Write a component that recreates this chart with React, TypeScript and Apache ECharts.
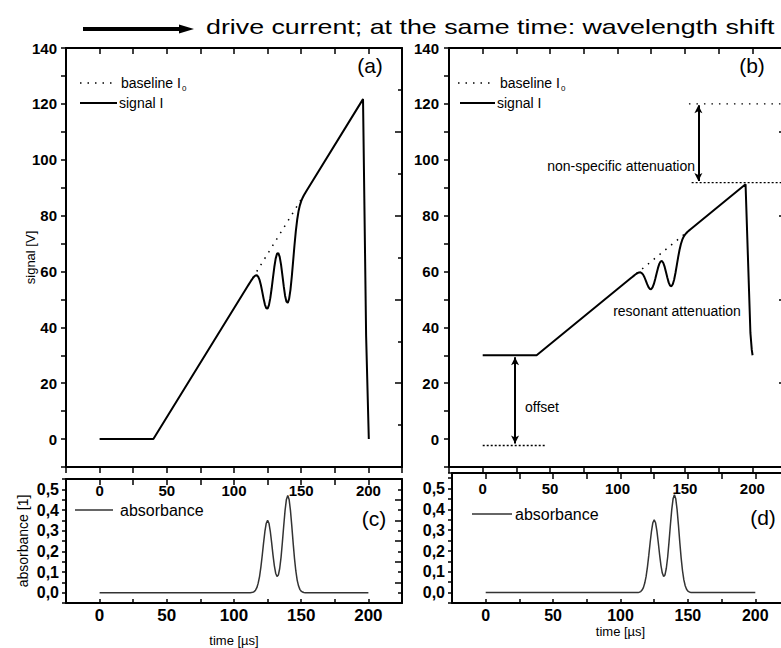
import React, { useEffect, useRef } from 'react';
import * as echarts from 'echarts';

// ---- data ----
const timeA = [0, 40, 110, 111, 112, 113, 114, 115, 116, 117, 118, 119, 120, 121, 122, 123, 124, 125, 126, 127, 128, 129, 130, 131, 132, 133, 134, 135, 136, 137, 138, 139, 140, 141, 142, 143, 144, 145, 146, 147, 148, 149, 150, 151, 152, 153, 154, 196, 198.3, 200.3];
const signalA = [0, 0, 54.6, 55.37, 56.14, 56.89, 57.59, 58.18, 58.57, 58.62, 58.13, 56.99, 55.15, 52.79, 50.28, 48.15, 46.83, 46.72, 47.95, 50.45, 53.9, 57.82, 61.59, 64.6, 66.36, 66.6, 65.22, 62.44, 58.69, 54.73, 51.33, 49.2, 48.75, 50.19, 53.44, 58.16, 63.73, 69.38, 74.45, 78.51, 81.53, 83.66, 85.17, 86.31, 87.26, 88.1, 88.92, 121.7, 37, 0];

const timeB = [0, 40, 110, 111, 112, 113, 114, 115, 116, 117, 118, 119, 120, 121, 122, 123, 124, 125, 126, 127, 128, 129, 130, 131, 132, 133, 134, 135, 136, 137, 138, 139, 140, 141, 142, 143, 144, 145, 146, 147, 148, 149, 150, 151, 152, 153, 154, 195, 198.6, 199.6, 200.2];
const signalB = [30, 30, 57.65, 58.04, 58.43, 58.81, 59.16, 59.47, 59.66, 59.69, 59.44, 58.86, 57.93, 56.73, 55.46, 54.38, 53.72, 53.66, 54.28, 55.55, 57.29, 59.28, 61.19, 62.71, 63.61, 63.73, 63.03, 61.62, 59.72, 57.72, 56.0, 54.91, 54.69, 55.42, 57.06, 59.45, 62.27, 65.13, 67.7, 69.76, 71.29, 72.37, 73.13, 73.71, 74.19, 74.62, 75.03, 91.2, 38, 32, 30];

const baselineTime = [114, 150];
const baselineA = [57.7, 85.8];
const baselineB = [59.2, 73.5];

const timeAbs = [0, 110, 111, 112, 113, 114, 115, 116, 117, 118, 119, 120, 121, 122, 123, 124, 125, 126, 127, 128, 129, 130, 131, 132, 133, 134, 135, 136, 137, 138, 139, 140, 141, 142, 143, 144, 145, 146, 147, 148, 149, 150, 151, 152, 153, 154, 200];
const absorbance = [0, 0, 0, 0, 0.001, 0.002, 0.005, 0.012, 0.024, 0.046, 0.078, 0.124, 0.18, 0.241, 0.296, 0.336, 0.35, 0.336, 0.297, 0.242, 0.183, 0.131, 0.094, 0.078, 0.085, 0.117, 0.171, 0.244, 0.324, 0.398, 0.451, 0.47, 0.451, 0.398, 0.323, 0.241, 0.166, 0.105, 0.061, 0.033, 0.016, 0.007, 0.003, 0.001, 0, 0, 0];

const nonSpecTopTime = [153, 226];
const nonSpecTop = [120, 120];
const nonSpecBottomTime = [155, 226];
const nonSpecBottom = [91.8, 91.8];
const offsetTime = [0, 46];
const offsetLevel = [-2.3, -2.3];
const offsetArrow = [29.3, -1.6]; // at t = 24
const nonSpecArrow = [119.5, 92.4]; // at t = 160

const timeTicks = [0, 50, 100, 150, 200];
const signalTicks = [0, 20, 40, 60, 80, 100, 120, 140];
const absTicks = [0, 0.1, 0.2, 0.3, 0.4, 0.5];

const FONT = '"Liberation Sans", Arial, Helvetica, sans-serif';

const zip = (xs: number[], ys: number[]) => xs.map((x, i) => [x, ys[i]]);

const timeFmt = (v: number) => (timeTicks.some((t) => Math.abs(t - v) < 1e-6) ? String(Math.round(v)) : '');
const signalFmt = (v: number) => (signalTicks.some((t) => Math.abs(t - v) < 1e-6) ? String(Math.round(v)) : '');
const absFmt = (v: number) => {
  const t = absTicks.find((a) => Math.abs(a - v) < 1e-6);
  return t === undefined ? '' : t.toFixed(1).replace('.', ',');
};

const axisLine = { show: true, onZero: false, lineStyle: { color: '#000', width: 2 } };
const tickStyle = { color: '#000', width: 1.5 };
const labelFont = (size: number) => ({ color: '#000', fontSize: size, fontWeight: 'bold' as const, fontFamily: FONT });

function xMain(gridIndex: number, margin: number, size: number, inside: boolean, name?: string, nameGap?: number, nameSize?: number) {
  return {
    type: 'value', gridIndex, min: -25, max: 225, interval: 25, position: 'bottom',
    axisLine, axisTick: { show: true, inside, length: inside ? 4 : 6, lineStyle: tickStyle },
    axisLabel: { formatter: timeFmt, margin, ...labelFont(size) },
    splitLine: { show: false },
    name, nameLocation: 'middle', nameGap, nameMoveOverlap: false,
    nameTextStyle: { color: '#000', fontSize: nameSize, fontFamily: FONT },
  };
}
function xTop(gridIndex: number) {
  return {
    type: 'value', gridIndex, min: -25, max: 225, interval: 25, position: 'top',
    axisLine, axisTick: { show: true, inside: true, length: 6, lineStyle: tickStyle },
    axisLabel: { show: false }, splitLine: { show: false },
  };
}
function ySignal(gridIndex: number, margin: number, name?: string) {
  return {
    type: 'value', gridIndex, min: -10, max: 140, interval: 10, position: 'left',
    axisLine, axisTick: { show: true, inside: false, length: 5, lineStyle: tickStyle },
    axisLabel: { formatter: signalFmt, margin, ...labelFont(15) },
    splitLine: { show: false },
    name, nameLocation: 'middle', nameGap: 29, nameRotate: 90, nameMoveOverlap: false,
    nameTextStyle: { color: '#000', fontSize: 13, fontFamily: FONT },
  };
}
function yRightSignal(gridIndex: number) {
  return {
    type: 'value', gridIndex, min: 0, max: 150, interval: 30, position: 'right',
    axisLine, axisTick: { show: true, inside: true, length: 7, lineStyle: tickStyle },
    minorTick: { show: true, splitNumber: 2, length: 4, lineStyle: tickStyle },
    axisLabel: { show: false }, splitLine: { show: false }, minorSplitLine: { show: false },
  };
}
function yAbs(gridIndex: number, max: number, name?: string) {
  return {
    type: 'value', gridIndex, min: -0.05, max, interval: 0.05, position: 'left',
    axisLine, axisTick: { show: true, inside: false, length: 4, lineStyle: tickStyle },
    axisLabel: { formatter: absFmt, margin: 7, ...labelFont(16) },
    splitLine: { show: false },
    name, nameLocation: 'middle', nameGap: 36, nameRotate: 90, nameMoveOverlap: false,
    nameTextStyle: { color: '#000', fontSize: 14, fontFamily: FONT },
  };
}
function yRightAbs(gridIndex: number) {
  return {
    type: 'value', gridIndex, min: 0, max: 0.6, interval: 0.1, position: 'right',
    axisLine, axisTick: { show: true, inside: true, length: 7, lineStyle: tickStyle },
    minorTick: { show: true, splitNumber: 2, length: 4, lineStyle: tickStyle },
    axisLabel: { show: false }, splitLine: { show: false }, minorSplitLine: { show: false },
  };
}

const lineSeries = (xi: number, yi: number, data: number[][], lineStyle: any, extra: any = {}) => ({
  type: 'line', xAxisIndex: xi, yAxisIndex: yi, data, symbol: 'none', showSymbol: false,
  lineStyle: { color: '#000', ...lineStyle }, silent: true, ...extra,
});

const txt = (x: number, y: number, text: string, size: number, align = 'left', extra: any = {}) => ({
  type: 'text', x, y, silent: true, ...extra,
  style: {
    text, fill: '#000', fontSize: size, fontFamily: FONT,
    align, textAlign: align, verticalAlign: 'middle', textVerticalAlign: 'middle',
  },
});
const seg = (x1: number, y1: number, x2: number, y2: number, style: any) => ({
  type: 'line', silent: true, shape: { x1, y1, x2, y2 }, style: { stroke: '#000', ...style },
});

export default function App() {
  const ref = useRef<HTMLDivElement>(null);
  useEffect(() => {
    if (!ref.current) return;
    const chart = echarts.init(ref.current, undefined, { renderer: 'svg' });
    const option: any = {
      animation: false,
      backgroundColor: '#fff',
      grid: [
        { left: 66, top: 48, width: 336, height: 419, outerBoundsMode: 'none' },
        { left: 449, top: 48, width: 337, height: 419, outerBoundsMode: 'none' },
        { left: 66, top: 479, width: 336, height: 124, outerBoundsMode: 'none' },
        { left: 452, top: 473, width: 337, height: 130, outerBoundsMode: 'none' },
      ],
      xAxis: [
        xMain(0, 16, 15, false),
        xTop(0),
        xMain(1, 14, 15, false),
        xTop(1),
        xMain(2, 4, 17, true, 'time [µs]', 31, 13),
        xTop(2),
        xMain(3, 4, 16, true, 'time [µs]', 22, 13),
        xTop(3),
      ],
      yAxis: [
        ySignal(0, 9, 'signal [V]'),
        yRightSignal(0),
        ySignal(1, 10),
        yRightSignal(1),
        yAbs(2, 0.55, 'absorbance [1]'),
        yRightAbs(2),
        yAbs(3, 0.575),
        yRightAbs(3),
      ],
      series: [
        lineSeries(0, 0, zip(baselineTime, baselineA), { type: [1.5, 6], width: 1.5 }),
        lineSeries(0, 0, zip(timeA, signalA), { width: 2 }),
        lineSeries(2, 2, zip(baselineTime, baselineB), { type: [1.5, 6], width: 1.5 }),
        lineSeries(2, 2, zip(timeB, signalB), { width: 2 }, {
          markLine: {
            silent: true, symbol: ['arrow', 'arrow'], symbolSize: [6, 8],
            label: { show: false },
            lineStyle: { color: '#000', width: 2, type: 'solid' },
            data: [
              [{ coord: [24, offsetArrow[0]] }, { coord: [24, offsetArrow[1]] }],
              [{ coord: [160, nonSpecArrow[0]] }, { coord: [160, nonSpecArrow[1]] }],
            ],
          },
        }),
        lineSeries(2, 2, zip(nonSpecTopTime, nonSpecTop), { type: [1.5, 6], width: 1.3 }),
        lineSeries(2, 2, zip(nonSpecBottomTime, nonSpecBottom), { type: [2, 2], width: 1.3 }),
        lineSeries(2, 2, zip(offsetTime, offsetLevel), { type: [2, 2], width: 1.3 }),
        lineSeries(4, 4, zip(timeAbs, absorbance), { width: 1.5, color: '#333' }),
        lineSeries(6, 6, zip(timeAbs, absorbance), { width: 1.5, color: '#333' }),
      ],
      graphic: [
        // title arrow + text
        seg(83, 29, 182, 29, { lineWidth: 4 }),
        { type: 'polygon', silent: true, shape: { points: [[179, 24.5], [194, 29], [179, 33.5]] }, style: { fill: '#000' } },
        txt(206, 27, 'drive current; at the same time: wavelength shift', 20, 'left', { scaleX: 1.34 }),
        // legend (a)
        seg(80, 83, 115, 83, { lineWidth: 1.5, lineDash: [1.5, 6] }),
        txt(121, 83, 'baseline I', 14),
        txt(182, 88, '0', 8),
        seg(80, 103, 117, 103, { lineWidth: 2 }),
        txt(119, 103, 'signal I', 14),
        txt(370, 65, '(a)', 21, 'center'),
        // legend (b)
        seg(458, 83, 492, 83, { lineWidth: 1.5, lineDash: [1.5, 6] }),
        txt(500, 83, 'baseline I', 14),
        txt(561, 88, '0', 8),
        seg(460, 103, 495, 103, { lineWidth: 2 }),
        txt(497, 103, 'signal I', 14),
        txt(752, 65, '(b)', 21, 'center'),
        // annotations (b)
        txt(695, 166, 'non-specific attenuation', 14, 'right'),
        txt(677, 311, 'resonant attenuation', 14, 'center'),
        txt(525, 407, 'offset', 14),
        // legend (c)
        seg(75, 510, 113, 510, { lineWidth: 1.5, stroke: '#333' }),
        txt(120, 510, 'absorbance', 16),
        txt(374, 518, '(c)', 21, 'center'),
        // legend (d)
        seg(472, 514, 512, 514, { lineWidth: 1.5, stroke: '#333' }),
        txt(515, 514, 'absorbance', 16),
        txt(763, 517, '(d)', 21, 'center'),
      ],
    };
    chart.setOption(option);
    return () => chart.dispose();
  }, []);
  return (
    <div
      ref={ref}
      style={{ position: 'fixed', left: 0, top: 0, width: 781, height: 648, background: '#fff' }}
    />
  );
}
